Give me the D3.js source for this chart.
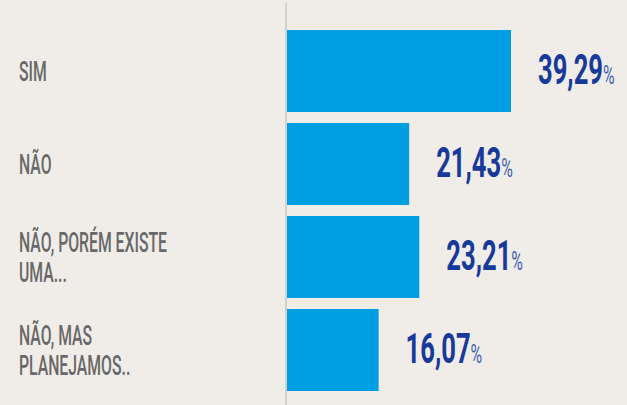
<!DOCTYPE html>
<html><head><meta charset="utf-8">
<script src="https://cdn.jsdelivr.net/npm/d3@7"></script>
<style>
html,body{margin:0;padding:0;background:#f0ede9;}
svg{display:block;}
</style></head>
<body>
<div id="chart"></div>
<script>
const categories = ["SIM", "NÃO", "NÃO, PORÉM EXISTE UMA...", "NÃO, MAS PLANEJAMOS.."];
const labelLines = [["SIM"], ["NÃO"], ["NÃO, PORÉM EXISTE", "UMA..."], ["NÃO, MAS", "PLANEJAMOS.."]];
const values = [39.29, 21.43, 23.21, 16.07];
const valueLabels = ["39,29", "21,43", "23,21", "16,07"];

const W = 627, H = 405;
const x0 = 287;
const svg = d3.select("#chart").append("svg").attr("width", W).attr("height", H);
svg.append("rect").attr("width", W).attr("height", H).attr("fill", "#f0ede9");

const x = d3.scaleLinear().domain([0, 39.29]).range([x0, x0 + 224]);
const y = d3.scaleBand().domain(categories).range([30, 391]).paddingInner(11/93).paddingOuter(0);

const FONT = "Roboto, 'Liberation Sans', sans-serif";

// font calibration: condense the font horizontally to the reference's proportions
function measure(str, size, weight) {
  const t = svg.append("text").attr("font-family", FONT).attr("font-size", size)
    .attr("font-weight", weight).text(str);
  const w = t.node().getComputedTextLength();
  t.remove();
  return w;
}

// bars
svg.selectAll("rect.bar").data(values).enter().append("rect")
  .attr("class", "bar")
  .attr("x", x(0))
  .attr("y", (d, i) => y(categories[i]))
  .attr("width", d => x(d) - x(0))
  .attr("height", y.bandwidth())
  .attr("fill", "#009fe3");

// axis line
svg.append("line").attr("x1", 286).attr("x2", 286).attr("y1", 3).attr("y2", H)
  .attr("stroke", "#d3d0cb").attr("stroke-width", 2);

// category labels
const lblSize = 28, lineH = 30, lblWeight = 500;
const lblSX = 148 / measure("NÃO, PORÉM EXISTE", lblSize, lblWeight);
categories.forEach((c, i) => {
  const lines = labelLines[i];
  const cy = y(c) + y.bandwidth() / 2;
  const capH = lblSize * 0.711;
  const firstBase = cy - (lines.length - 1) * lineH / 2 + capH / 2;
  const g = svg.append("g").attr("transform", `translate(19,0) scale(${lblSX},1)`);
  lines.forEach((ln, j) => {
    g.append("text").attr("x", 0).attr("y", firstBase + j * lineH)
      .attr("font-family", FONT).attr("font-size", lblSize).attr("font-weight", lblWeight)
      .attr("fill", "#686868").text(ln);
  });
});

// value labels
const numSize = 42, pctSize = 26;
const numSX = 65 / measure("39,29", numSize, "bold");
values.forEach((v, i) => {
  const cy = y(categories[i]) + y.bandwidth() / 2;
  const g = svg.append("g").attr("transform", `translate(${x(v) + 27},${cy - 2 + numSize * 0.711 / 2}) scale(${numSX},1)`);
  const t = g.append("text").attr("x", 0).attr("y", 0).attr("font-family", FONT);
  t.append("tspan").attr("font-size", numSize).attr("font-weight", "bold").attr("fill", "#17399a").text(valueLabels[i]);
  t.append("tspan").attr("font-size", pctSize).attr("font-weight", 400).attr("fill", "#3d5fb0").text("%");
});
</script>
</body></html>
